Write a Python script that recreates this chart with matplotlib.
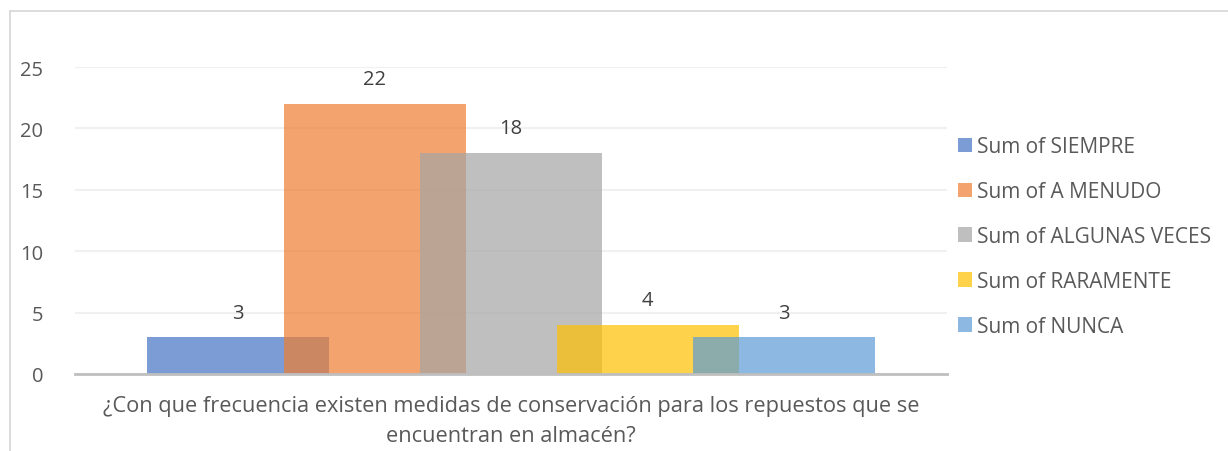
import matplotlib
matplotlib.use("Agg")
import matplotlib.pyplot as plt
from matplotlib.lines import Line2D
from matplotlib.patches import Patch

series = ["Sum of SIEMPRE", "Sum of A MENUDO", "Sum of ALGUNAS VECES", "Sum of RARAMENTE", "Sum of NUNCA"]
values = [3, 22, 18, 4, 3]
colors = ["#4472C4", "#ED7D31", "#A5A5A5", "#FFC000", "#5B9BD5"]
category_label = "¿Con que frecuencia existen medidas de conservación para los repuestos que se\nencuentran en almacén?"
yticks = [0, 5, 10, 15, 20, 25]

plt.rcParams['font.family'] = ['Open Sans', 'DejaVu Sans']
W, H = 1228, 452
fig = plt.figure(figsize=(W / 100, H / 100), dpi=100)
ax = fig.add_axes([75 / W, 1 - 375 / H, (947 - 75) / W, (375 - 68) / H])

step = 136.5 / 872
width = 182 / 872
alpha = 0.7
for i, (s, v, c) in enumerate(zip(series, values, colors)):
    x = (i - 2) * step
    ax.bar(x, v, width=width, color=c, alpha=alpha, zorder=3, label=s, linewidth=0)
    ax.annotate(str(v), (x, v), xytext=(0, 10.5), textcoords="offset points",
                ha="center", va="bottom", fontsize=14.5, color="#404040",
                annotation_clip=False, zorder=4)

ax.set_xlim(-0.5, 0.5)
ax.set_ylim(0, 25)
ax.set_yticks(yticks)
ax.set_yticklabels([str(t) for t in yticks], fontsize=14.5, color="#595959")
ax.tick_params(axis="y", length=0, pad=23)
ax.set_xticks([0])
ax.set_xticklabels([category_label], fontsize=15.7, color="#595959", linespacing=1.55)
ax.tick_params(axis="x", length=0, pad=15)
ax.grid(axis="y", color="#F0F0F0", linewidth=1.5, zorder=0)
for sp in ["top", "right", "left"]:
    ax.spines[sp].set_visible(False)
ax.spines["bottom"].set_color("#BFBFBF")
ax.spines["bottom"].set_linewidth(2)
ax.spines["bottom"].set_zorder(5)

handles = [Patch(facecolor=c, alpha=alpha, linewidth=0) for c in colors]
leg = fig.legend(handles, series, loc="upper left", bbox_to_anchor=(958 / W, 1 - 137 / H),
                 frameon=False, fontsize=15, labelcolor="#595959",
                 handlelength=0.68, handleheight=0.68, handletextpad=0.25,
                 labelspacing=1.15, borderaxespad=0, borderpad=0)

fig.add_artist(Line2D([10 / W, 10 / W], [0, 1 - 12 / H], transform=fig.transFigure,
                      color="#D9D9D9", linewidth=1.3))
fig.add_artist(Line2D([10 / W, 1], [1 - 12 / H, 1 - 12 / H], transform=fig.transFigure,
                      color="#D9D9D9", linewidth=1.3))

fig.savefig("out.png", dpi=100)
